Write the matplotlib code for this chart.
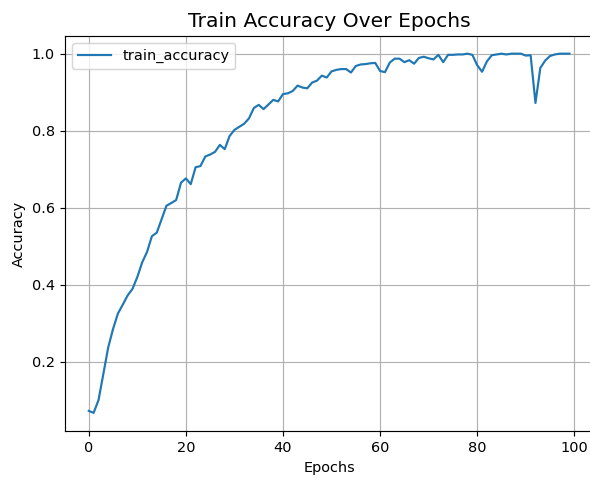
import matplotlib
matplotlib.use('Agg')
from matplotlib import pyplot as plt

epochs = list(range(100))
train_accuracy = [
	0.072, 0.067, 0.100, 0.168, 0.237, 0.285, 0.325, 0.348, 0.372, 0.389,
	0.420, 0.458, 0.485, 0.526, 0.535, 0.570, 0.605, 0.612, 0.620, 0.665,
	0.676, 0.661, 0.705, 0.708, 0.733, 0.738, 0.745, 0.763, 0.752, 0.786,
	0.802, 0.810, 0.818, 0.832, 0.859, 0.867, 0.856, 0.868, 0.880, 0.876,
	0.895, 0.897, 0.903, 0.917, 0.912, 0.910, 0.925, 0.930, 0.943, 0.938,
	0.954, 0.958, 0.960, 0.960, 0.951, 0.968, 0.972, 0.973, 0.975, 0.976,
	0.955, 0.952, 0.977, 0.987, 0.987, 0.978, 0.983, 0.974, 0.989, 0.992,
	0.988, 0.985, 0.997, 0.978, 0.997, 0.997, 0.998, 0.998, 1.000, 0.997,
	0.970, 0.953, 0.980, 0.996, 0.998, 1.000, 0.998, 1.000, 1.000, 1.000,
	0.995, 0.996, 0.872, 0.963, 0.982, 0.994, 0.998, 1.000, 1.000, 1.000,
]

dpi = 104
fig = plt.figure(figsize=(590.3 / dpi, 478.3 / dpi), dpi=dpi)
ax = fig.add_axes([0.1097, 0.0987, 0.8957, 0.826])
ax.plot(epochs, train_accuracy, label='train_accuracy')
ax.set_title('Train Accuracy Over Epochs', fontsize=14, pad=6.4)
ax.set_xlabel('Epochs')
ax.set_ylabel('Accuracy')
ax.legend(loc='upper left', handlelength=2.3)
ax.grid(True)
# the reference image is cut off before the right spine
ax.spines['right'].set_visible(False)

plt.savefig('out.png', dpi=dpi)
